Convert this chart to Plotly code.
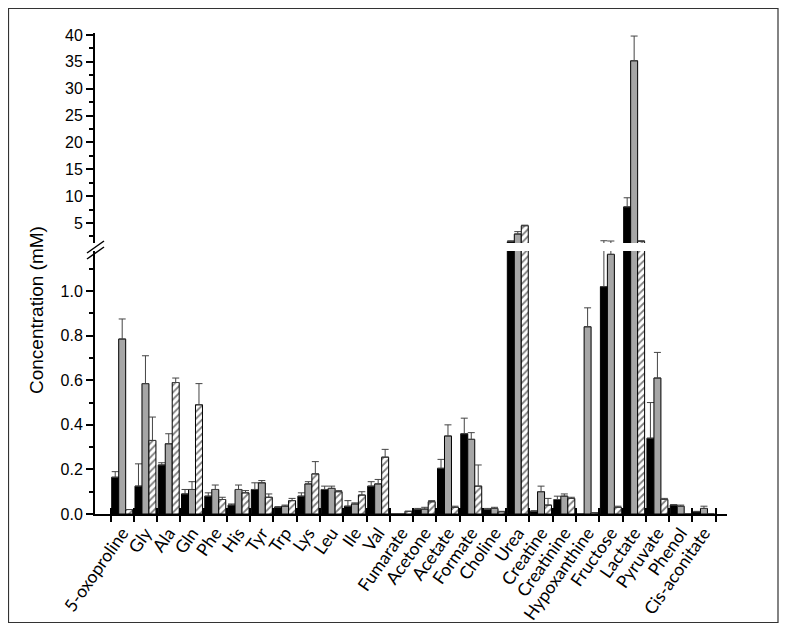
import plotly.graph_objects as go

categories = ["5-oxoproline", "Gly", "Ala", "Gln", "Phe", "His", "Tyr", "Trp", "Lys", "Leu",
              "Ile", "Val", "Fumarate", "Acetone", "Acetate", "Formate", "Choline", "Urea",
              "Creatine", "Creatinine", "Hypoxanthine", "Fructose", "Lactate", "Pyruvate",
              "Phenol", "Cis-aconitate"]

black_vals = [0.165, 0.125, 0.22, 0.09, 0.08, 0.04, 0.11, 0.03, 0.08, 0.11,
              0.035, 0.125, 0.0, 0.02, 0.205, 0.36, 0.02, 1.52,
              0.012, 0.065, 0.0, 1.02, 8.0, 0.34, 0.04, 0.01]
black_err = [0.19, 0.225, 0.23, 0.11, 0.095, 0.045, 0.14, 0.033, 0.095, 0.125,
             0.06, 0.145, 0.0, 0.025, 0.245, 0.43, 0.025, 1.7,
             0.015, 0.08, 0.0, 1.7, 9.7, 0.5, 0.042, 0.012]

gray_vals = [0.785, 0.585, 0.315, 0.11, 0.11, 0.11, 0.14, 0.035, 0.135, 0.115,
             0.045, 0.135, 0.0, 0.022, 0.35, 0.335, 0.025, 2.95,
             0.1, 0.08, 0.84, 1.165, 35.2, 0.61, 0.035, 0.025]
gray_err = [0.875, 0.71, 0.36, 0.145, 0.13, 0.13, 0.15, 0.04, 0.145, 0.125,
            0.05, 0.155, 0.0, 0.03, 0.4, 0.365, 0.03, 3.4,
            0.125, 0.09, 0.925, 1.65, 39.8, 0.725, 0.04, 0.035]

hatch_vals = [0.02, 0.33, 0.59, 0.49, 0.065, 0.095, 0.075, 0.06, 0.18, 0.1,
              0.085, 0.255, 0.012, 0.055, 0.03, 0.125, 0.01, 4.5,
              0.04, 0.07, 0.005, 0.03, 1.6, 0.065, 0.0, 0.0]
hatch_err = [0.02, 0.435, 0.61, 0.585, 0.075, 0.105, 0.09, 0.07, 0.235, 0.105,
             0.1, 0.29, 0.012, 0.06, 0.035, 0.22, 0.012, 4.6,
             0.07, 0.075, 0.005, 0.035, 1.7, 0.07, 0.0, 0.0]

lower_ticks = [0.0, 0.2, 0.4, 0.6, 0.8, 1.0]
upper_ticks = [5, 10, 15, 20, 25, 30, 35, 40]

x_idx = list(range(len(categories)))

# page has an 8px body margin; work in page pixels and subtract it
OFF = 8
W, H = 787 - OFF, 630 - OFF
L, R, T, B = 95 - OFF, 60, 33 - OFF, 630 - 514
plot_w = W - L - R
plot_h = H - T - B

fig = go.Figure()

series = [
    (black_vals, black_err, dict(color="black", line=dict(color="black", width=1))),
    (gray_vals, gray_err, dict(color="#a6a6a6", line=dict(color="black", width=1))),
    (hatch_vals, hatch_err, dict(color="white", line=dict(color="black", width=1),
                                 pattern=dict(shape="/", fgcolor="black", bgcolor="white",
                                              size=5, solidity=0.35))),
]

for i, (vals, errs, marker) in enumerate(series):
    plus = [max(e - v, 0) for v, e in zip(vals, errs)]
    for xa, ya in (("x", "y"), ("x2", "y2")):
        fig.add_trace(go.Bar(
            x=x_idx, y=vals, xaxis=xa, yaxis=ya, marker=marker,
            offsetgroup=str(i), showlegend=False,
            error_y=dict(type="data", symmetric=False, array=plus,
                         arrayminus=[0] * len(vals), color="#444444",
                         thickness=1, width=3.5),
        ))

xr = [-0.5 - 15 / 22.44, 25.5 + 11 / 22.44]

lower_top = 1.18
upper_bottom = 1.28
upper_top = 40.37


def px_x(p):
    return (p - OFF - L) / plot_w


def px_y(p):
    return (H - B - (p - OFF)) / plot_h


y_lower_dom_top = px_y(251)
y_upper_dom_bot = px_y(243)

font_y = dict(family="Liberation Sans, Arial", size=16, color="black")
font_x = dict(family="Lato, Open Sans", size=17.5, color="black")

fig.update_layout(
    width=W, height=H,
    margin=dict(l=L, r=R, t=T, b=B),
    paper_bgcolor="white", plot_bgcolor="white",
    barmode="group", bargap=0.1, bargroupgap=0,
    xaxis=dict(domain=[0, 1], anchor="y", range=xr, automargin=False,
               tickmode="array", tickvals=x_idx, ticktext=categories,
               ticks="", tickangle=-55, tickfont=font_x,
               showline=True, linecolor="black", linewidth=2,
               showgrid=False, zeroline=False,
               minor=dict(tickmode="linear", tick0=-0.5, dtick=1, ticks="outside",
                          ticklen=6, tickwidth=2, tickcolor="black", showgrid=False)),
    xaxis2=dict(domain=[0, 1], anchor="y2", range=xr, matches="x", automargin=False,
                showticklabels=False, ticks="", showline=False,
                showgrid=False, zeroline=False),
    xaxis3=dict(domain=[0, 1], anchor="y", overlaying="x", range=xr, automargin=False,
                tickmode="linear", tick0=-0.5, dtick=1, ticks="inside",
                ticklen=6, tickwidth=2, tickcolor="black",
                showticklabels=False, showline=False, showgrid=False, zeroline=False),
    yaxis=dict(domain=[0, y_lower_dom_top], anchor="x", range=[0, lower_top],
               automargin=False,
               tickmode="array", tickvals=lower_ticks,
               ticktext=[f"{v:.1f}" for v in lower_ticks],
               ticks="outside", ticklen=7, tickwidth=1.5, tickcolor="black",
               tickfont=font_y, showline=True, linecolor="black", linewidth=2,
               showgrid=False, zeroline=False,
               minor=dict(tickmode="linear", tick0=0.1, dtick=0.2, ticks="outside",
                          ticklen=4, tickwidth=1.5, tickcolor="black", showgrid=False)),
    yaxis2=dict(domain=[y_upper_dom_bot, 1], anchor="x2", range=[upper_bottom, upper_top],
                automargin=False,
                tickmode="array", tickvals=upper_ticks,
                ticktext=[str(v) for v in upper_ticks],
                ticks="outside", ticklen=7, tickwidth=1.5, tickcolor="black",
                tickfont=font_y, showline=True, linecolor="black", linewidth=2,
                showgrid=False, zeroline=False,
                minor=dict(tickmode="linear", tick0=2.5, dtick=5, ticks="outside",
                           ticklen=4, tickwidth=1.5, tickcolor="black", showgrid=False)),
)

# empty trace so the overlaying tick axis renders
fig.add_trace(go.Scatter(x=[], y=[], xaxis="x3", yaxis="y", showlegend=False))

# axis break marks
for dy in (0, 6):
    fig.add_shape(type="line", xref="paper", yref="paper",
                  x0=px_x(87), y0=px_y(253 + dy), x1=px_x(104), y1=px_y(241 + dy),
                  line=dict(color="black", width=1.5))

# frame around the figure
fig.add_shape(type="rect", xref="paper", yref="paper",
              x0=px_x(8.5), y0=px_y(622.5), x1=px_x(778), y1=px_y(8.5),
              line=dict(color="#333333", width=1.2))

fig.add_annotation(text="Concentration (mM)", xref="paper", yref="paper",
                   x=px_x(36), y=px_y(310), textangle=-90, showarrow=False,
                   font=dict(family="Liberation Sans, Arial", size=19, color="black"),
                   xanchor="center", yanchor="middle")

fig.write_html("out.html")
